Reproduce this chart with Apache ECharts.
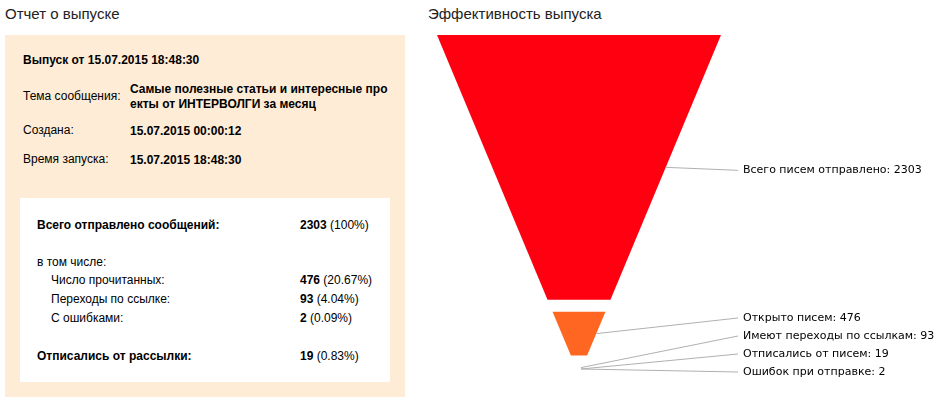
<!DOCTYPE html>
<html><head><meta charset="utf-8">
<script src="https://cdn.jsdelivr.net/npm/echarts@6/dist/echarts.min.js"></script>
<style>
body{margin:0;width:943px;height:410px;position:relative;font-family:"Liberation Sans",Arial,sans-serif;color:#000;background:#fff;overflow:hidden}
.a{position:absolute;font-size:12px;white-space:nowrap}
.b{font-weight:bold}
.t{position:absolute;font-size:15px;top:5px;color:#222}
</style></head><body>
<div class="t" style="left:5px">Отчет о выпуске</div>
<div class="t" style="left:428px">Эффективность выпуска</div>
<div style="position:absolute;left:5px;top:35px;width:400px;height:362px;background:#feecd6"></div>
<div style="position:absolute;left:20px;top:198px;width:370px;height:184px;background:#fff"></div>
<div class="a b" style="left:23px;top:53px">Выпуск от 15.07.2015 18:48:30</div>
<div class="a" style="left:23px;top:89px">Тема сообщения:</div>
<div class="a b" style="left:130px;top:82px;line-height:15px">Самые полезные статьи и интересные про<br>екты от ИНТЕРВОЛГИ за месяц</div>
<div class="a" style="left:23px;top:123px">Создана:</div>
<div class="a b" style="left:130px;top:124px">15.07.2015 00:00:12</div>
<div class="a" style="left:23px;top:152px">Время запуска:</div>
<div class="a b" style="left:130px;top:153px">15.07.2015 18:48:30</div>
<div class="a b" style="left:37px;top:218px">Всего отправлено сообщений:</div>
<div class="a" style="left:300px;top:218px"><b>2303</b> (100%)</div>
<div class="a" style="left:37px;top:255px">в том числе:</div>
<div class="a" style="left:51px;top:273px">Число прочитанных:</div>
<div class="a" style="left:300px;top:273px"><b>476</b> (20.67%)</div>
<div class="a" style="left:51px;top:292px">Переходы по ссылке:</div>
<div class="a" style="left:300px;top:292px"><b>93</b> (4.04%)</div>
<div class="a" style="left:51px;top:311px">С ошибками:</div>
<div class="a" style="left:300px;top:311px"><b>2</b> (0.09%)</div>
<div class="a b" style="left:37px;top:349px">Отписались от рассылки:</div>
<div class="a" style="left:300px;top:349px"><b>19</b> (0.83%)</div>
<div id="c" style="position:absolute;left:420px;top:0;width:523px;height:410px"></div>
<script>
const names = ["Всего писем отправлено","Открыто писем","Имеют переходы по ссылкам","Отписались от писем","Ошибок при отправке"];
const values = [2303, 476, 93, 19, 2];
const colors = ["#ff0011","#ff6622","#ff9e01","#fcd202","#f8ff01"];
const total = values.reduce((a,b)=>a+b,0);
const starts = []; let acc = 0;
values.forEach(v=>{starts.push(acc); acc+=v;});
const data = values.map((v,i)=>[starts[i], starts[i]+v, i]);
const chart = echarts.init(document.getElementById('c'));
const GAP = 12;
chart.setOption({
  animation:false,
  grid:{left:17,top:35,width:284,height:340},
  xAxis:{type:'value',min:-1,max:1,show:false},
  yAxis:{type:'value',min:0,max:total,inverse:true,show:false},
  series:[{
    type:'custom',
    data:data,
    renderItem:function(params, api){
      const i = api.value(2);
      const top = api.coord([0,0]), apex = api.coord([0,total]);
      const hw0 = api.coord([1,0])[0]-top[0];
      const cx = top[0], H = apex[1]-top[1];
      const hw = y => hw0*(apex[1]-y)/H;
      let y0 = api.coord([0,api.value(0)])[1] + (i>0?GAP/2:0);
      let y1 = api.coord([0,api.value(1)])[1] - (i<values.length-1?GAP/2:0);
      if (y1<y0){y1=y0;}
      const ys=[]; let next = apex[1]-3+18;
      for(let k=values.length-1;k>=0;k--){
        const m = (api.coord([0,starts[k]])[1]+api.coord([0,starts[k]+values[k]])[1])/2;
        next = Math.min(m, next-18); ys[k]=next;
      }
      const ym=(y0+y1)/2, ex=cx+hw(ym);
      const lx = api.coord([1,0])[0]+22;
      const ly = ys[i];
      const children=[];
      if(y1-y0>3) children.push({type:'polygon',shape:{points:[[cx-hw(y0),y0],[cx+hw(y0),y0],[cx+hw(y1),y1],[cx-hw(y1),y1]]},style:{fill:colors[i]}});
      const sx = y1-y0>3 ? ex : cx+2, sy = y1-y0>3 ? ym : Math.min(ym, apex[1]-6) ;
      children.push({type:'line',shape:{x1:sx,y1:sy,x2:lx-5,y2:ly},style:{stroke:'#b0b0b0',lineWidth:1}});
      children.push({type:'text',x:lx,y:ly,style:{text:names[i]+': '+values[i],fontFamily:'DejaVu Sans',fontSize:11,fill:'#000',verticalAlign:'middle'}});
      return {type:'group',children:children};
    }
  }]
});
</script>
</body></html>
